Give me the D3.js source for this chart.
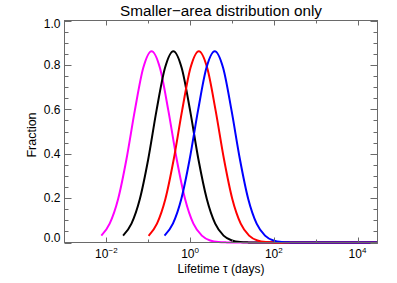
<!DOCTYPE html>
<html>
<head>
<meta charset="utf-8">
<script src="https://cdn.jsdelivr.net/npm/d3@7"></script>
<style>
  html, body { margin: 0; padding: 0; background: #fff; }
  svg { display: block; font-family: "Liberation Sans", Arial, Helvetica, sans-serif; }
</style>
</head>
<body>
<svg id="chart" width="397" height="283"></svg>
<script>
// ---- data ----
const title = "Smaller\u2212area distribution only";
const xTitle = "Lifetime \u03c4 (days)";
const yTitle = "Fraction";

const xTickValues = [1e-2, 1e-1, 1e0, 1e1, 1e2, 1e3, 1e4];
const xTickExponents = [-2, -1, 0, 1, 2, 3, 4];
const xLabeledExponents = [-2, 0, 2, 4];
const yMajorTicks = [0.0, 0.2, 0.4, 0.6, 0.8, 1.0];
const yMinorTicks = [0.05,0.1,0.15,0.25,0.3,0.35,0.45,0.5,0.55,0.65,0.7,0.75,0.85,0.9,0.95];

const seriesNames = ["magenta", "black", "red", "blue"];
const seriesColors = ["#ff00ff", "#000000", "#ff0000", "#0000ff"];

const tauMagenta = [0.00759,0.0120,0.0191,0.0302,0.0479,0.0759,0.120,0.191,0.302,0.479,0.759,1.20,1.91,3.02,4.79,7.59,12.0,30000];
const fracMagenta = [0.031,0.085,0.196,0.375,0.595,0.786,0.862,0.786,0.595,0.375,0.196,0.085,0.031,0.009,0.002,0.0005,0,0];

const tauBlack = [0.0251,0.0398,0.0631,0.100,0.158,0.251,0.398,0.631,1.00,1.58,2.51,3.98,6.31,10.0,15.8,25.1,39.8,30000];
const fracBlack = [0.031,0.085,0.196,0.375,0.595,0.786,0.862,0.786,0.595,0.375,0.196,0.085,0.031,0.009,0.002,0.0005,0,0];

const tauRed = [0.102,0.162,0.257,0.407,0.646,1.02,1.62,2.57,4.07,6.46,10.2,16.2,25.7,40.7,64.6,102,162,30000];
const fracRed = [0.030,0.085,0.196,0.375,0.595,0.786,0.862,0.786,0.595,0.375,0.196,0.085,0.031,0.009,0.002,0.0005,0,0];

const tauBlue = [0.245,0.389,0.617,0.977,1.55,2.45,3.89,6.17,9.77,15.5,24.5,38.9,61.7,97.7,155,245,389,30000];
const fracBlue = [0.031,0.085,0.196,0.375,0.595,0.786,0.862,0.786,0.595,0.375,0.196,0.085,0.031,0.009,0.002,0.0005,0,0];

const seriesTau = [tauMagenta, tauBlack, tauRed, tauBlue];
const seriesFrac = [fracMagenta, fracBlack, fracRed, fracBlue];

// ---- layout ----
const L = 64.5, R = 377.5, T = 20.5, B = 242.5;
const svg = d3.select("#chart");
const x = d3.scaleLog().domain([1e-3, 3e4]).range([L, R]);
const y = d3.scaleLinear().domain([0, 1]).range([B, T]);
const axisColor = "#6a6a6a";

// curves
const line = d3.line().x(d => x(d[0])).y(d => y(d[1])).curve(d3.curveMonotoneX);
seriesNames.forEach((name, i) => {
  const pts = seriesTau[i].map((t, j) => [t, seriesFrac[i][j]]);
  svg.append("path")
    .attr("d", line(pts))
    .attr("fill", "none")
    .attr("stroke", seriesColors[i])
    .attr("stroke-width", 2)
    .attr("stroke-linejoin", "round");
});

// box
svg.append("rect").attr("x", L).attr("y", T).attr("width", R - L).attr("height", B - T)
  .attr("fill", "none").attr("stroke", axisColor).attr("stroke-width", 1);

// x ticks (bottom and top)
const g = svg.append("g").attr("stroke", axisColor).attr("stroke-width", 1);
xTickValues.forEach((v, i) => {
  const xp = Math.round(x(v)) + 0.5;
  const len = xLabeledExponents.includes(xTickExponents[i]) ? 5 : 3;
  g.append("line").attr("x1", xp).attr("x2", xp).attr("y1", B).attr("y2", B - len);
  g.append("line").attr("x1", xp).attr("x2", xp).attr("y1", T).attr("y2", T + len);
});
// y ticks (left and right)
yMajorTicks.forEach(v => {
  const yp = Math.round(y(v)) + 0.5;
  g.append("line").attr("x1", L).attr("x2", L + 7).attr("y1", yp).attr("y2", yp);
  g.append("line").attr("x1", R).attr("x2", R - 7).attr("y1", yp).attr("y2", yp);
});
yMinorTicks.forEach(v => {
  const yp = Math.round(y(v)) + 0.5;
  g.append("line").attr("x1", L).attr("x2", L + 4).attr("y1", yp).attr("y2", yp);
  g.append("line").attr("x1", R).attr("x2", R - 4).attr("y1", yp).attr("y2", yp);
});

// y tick labels
yMajorTicks.forEach(v => {
  const yp = Math.min(Math.max(y(v), 24), 238);
  svg.append("text").attr("x", 60.5).attr("y", yp).attr("dy", "0.35em")
    .attr("text-anchor", "end").attr("font-size", 12).attr("fill", "#000")
    .text(v.toFixed(1));
});

// x tick labels
xTickValues.forEach((v, i) => {
  const e = xTickExponents[i];
  if (!xLabeledExponents.includes(e)) return;
  const t = svg.append("text").attr("x", x(v)).attr("y", 258)
    .attr("text-anchor", "middle").attr("font-size", 12).attr("fill", "#000");
  t.append("tspan").text("10");
  t.append("tspan").attr("font-size", 8).attr("dy", -5)
    .text(e < 0 ? "\u2212" + Math.abs(e) : String(e));
});

// titles
svg.append("text").attr("x", (L + R) / 2).attr("y", 16)
  .attr("text-anchor", "middle").attr("font-size", 15.3).attr("fill", "#000").text(title);
svg.append("text").attr("x", (L + R) / 2).attr("y", 273)
  .attr("text-anchor", "middle").attr("font-size", 12).attr("fill", "#000").text(xTitle);
svg.append("text").attr("transform", "translate(36,135) rotate(-90)")
  .attr("text-anchor", "middle").attr("font-size", 12.5).attr("fill", "#000").text(yTitle);
</script>
</body>
</html>
